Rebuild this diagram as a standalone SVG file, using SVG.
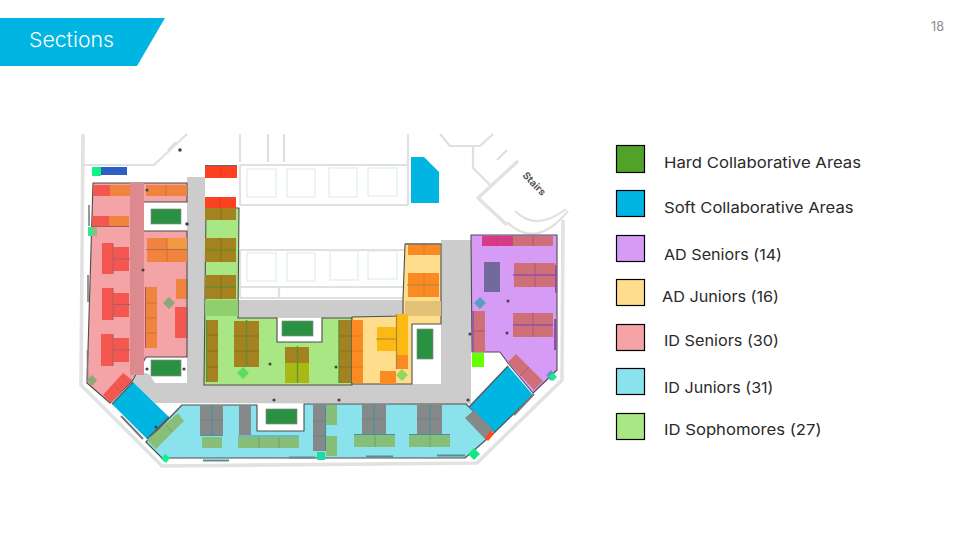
<svg xmlns="http://www.w3.org/2000/svg" width="960" height="540" viewBox="0 0 960 540">
<style>
text{font-family:"Inter","Noto Sans","Liberation Sans",sans-serif}
.lab{font-size:15px;fill:#2a2a2a;font-weight:400}
.sw{stroke:#000;stroke-width:1.2}
.wall{fill:none;stroke:#e0e0e0;stroke-width:2.200;stroke-linejoin:round}
.thick{fill:none;stroke:#e2e2e2;stroke-width:3.600;stroke-linejoin:round}
.room{fill:#fff;stroke:#d5eedd;stroke-width:1}
.zone{stroke:#4d4d4d;stroke-width:1.100;stroke-linejoin:round}
.soft{fill:#00b5e2}
.hard{fill:#2a9142;stroke:#8a8a8a;stroke-width:.7}
.sep{stroke-width:.7;fill:none}
.dot{fill:#444}
</style>
<g id="header">
<polygon points="0,18 165,18 137,66 0,66" fill="#00b5e2"/>
<text x="29" y="47" font-size="20.500" font-weight="300" fill="#fff" textLength="85" lengthAdjust="spacingAndGlyphs">Sections</text>
<text x="931" y="31" font-size="12.500" fill="#8c8c8c" textLength="13" lengthAdjust="spacingAndGlyphs">18</text>
</g>
<g id="floorplan-walls">
<polygon points="187,177 205,177 205,300 404,300 404,318 441,318 441,240 471,240 471,404 155,403 133,382 146,357 187,357" fill="#ccc"/>
<polygon points="146,357 187,357 187,383 155,383 149,374 141,372" fill="#fff"/>
<rect x="412" y="324" width="29" height="60" fill="#fff"/>
<rect x="277" y="318" width="45" height="24" fill="#fff"/>
<path class="thick" d="M83,134 L81,385 L162,466 L477,463 L562,380 L563,220"/>
<path class="wall" d="M84,165 H154 L187,134"/>
<path class="wall" stroke-width="5" d="M168,150 L176,142"/>
<path class="wall" d="M240,165 H408 M240,162 V134 M268,162 V134 M284,162 V134 M240,205 H408 M240,165 V205 M408,134 V160 M408,160 V205"/>
<path class="wall" d="M240,250 H406 M240,250 V298 M240,287 H404 M240,298 H404 M279,287 V298"/>
<rect class="room" x="247" y="169" width="29" height="28"/>
<rect class="room" x="287" y="169" width="28" height="28"/>
<rect class="room" x="329" y="168" width="28" height="29"/>
<rect class="room" x="368" y="168" width="29" height="28"/>
<rect class="room" x="247" y="253" width="29" height="28"/>
<rect class="room" x="287" y="253" width="28" height="28"/>
<rect class="room" x="330" y="251" width="28" height="29"/>
<rect class="room" x="368" y="251" width="29" height="28"/>
<path class="wall" d="M473,147 V168 L490,185 M440,134 L450,146 L480,146 L493,134"/>
<path class="thick" d="M518,161 L478,198 L507,225"/>
<path class="wall" stroke-width="3" d="M515,211 Q536,232 566,209 M507,222 Q536,250 568,211"/>
<path class="wall" d="M507,150 L497,160"/>
<text x="534" y="187" font-size="10" font-weight="700" fill="#555" text-anchor="middle" transform="rotate(47 534 184)">Stairs</text>
</g>
<g id="zones">
<path id="id-seniors" class="zone" fill="#f4a3a7" d="M93,183 H187 V202 H143 L142,231 H187 V357 H146 L133,380 L110,403 L87,383 Z"/>
<rect x="130" y="183" width="14" height="192" fill="#dc8a90"/>
<path id="id-sophomores" class="zone" fill="#a9e684" d="M206,208 H239 L238,318 H277 V342 H322 V318 H352 V385 H204 Z"/>
<rect x="205" y="300" width="33" height="16" fill="#90cf6e"/>
<path id="ad-juniors" class="zone" fill="#fedd8c" d="M352,317 L403,316 V300 L405,244 H441 V324 H412 V384 H352 Z"/>
<rect x="405" y="301" width="36" height="15" fill="#e3c277"/>
<path id="id-juniors" class="zone" fill="#8ae3ec" d="M182,405 H257 V431 H304 V404 H466 L495,432 L465,458 H162 L146,442 Z"/>
<path id="ad-seniors" class="zone" fill="#d69cf5" d="M471,235 H557 V370 L533,393 L508,363 L500,352 H472 Z"/>
</g>
<g id="hard-areas">
<rect class="hard" x="151" y="209" width="30" height="15"/>
<rect class="hard" x="151" y="360" width="30" height="16"/>
<rect class="hard" x="282" y="321" width="31" height="15"/>
<rect class="hard" x="266" y="409" width="31" height="15"/>
<rect class="hard" x="417" y="329" width="16" height="30"/>
</g>
<g id="soft-areas">
<polygon class="soft" points="133,382 169,417 147,439 112,404"/>
<polygon class="soft" points="508,366 533,395 495,432 469,407"/>
<polygon class="soft" points="411,157 424,157 439,172 439,203 411,203"/>
<path d="M133,382 L112,404 M147,439 L169,417 M508,366 L469,407 M533,395 L495,432" stroke="#555" stroke-width="1.200" fill="none"/>
</g>
<g id="desks-id-seniors">
<rect x="93" y="185" width="17" height="11" fill="#f4574f"/><rect x="110" y="185" width="20" height="11" fill="#f0833d"/>
<rect x="146" y="185" width="41" height="11" fill="#f0833d"/><path class="sep" stroke="#b96a3c" d="M166,185 V196"/>
<rect x="92" y="216" width="17" height="10" fill="#f4574f"/><rect x="109" y="216" width="20" height="10" fill="#f0833d"/>
<path d="M92,226.500 H129" stroke="#a8565c" stroke-width="1.200"/>
<rect x="147" y="238" width="40" height="24" fill="#f0833d"/><rect x="167" y="238" width="20" height="11" fill="#f29a42"/>
<path d="M146,249.500 H187" stroke="#b86a50" stroke-width="1.200"/><path class="sep" stroke="#b96a3c" d="M167,238 V262"/>
<rect x="102" y="243" width="11" height="31" fill="#f4574f"/><rect x="113" y="247" width="16" height="24" fill="#f4574f"/>
<path d="M113,259 H130 M113,243 V274" stroke="#b35a60" stroke-width="1"/>
<rect x="102" y="288" width="11" height="32" fill="#f4574f"/><rect x="113" y="293" width="16" height="24" fill="#f4574f"/>
<path d="M113,304.500 H130 M113,288 V320" stroke="#b35a60" stroke-width="1"/>
<rect x="101" y="334" width="12" height="32" fill="#f4574f"/><rect x="113" y="338" width="16" height="24" fill="#f4574f"/>
<path d="M113,350 H130 M113,334 V366" stroke="#b35a60" stroke-width="1"/>
<rect x="146" y="287" width="11" height="61" fill="#f0833d"/>
<path d="M145.500,287 V348" stroke="#a8565c" stroke-width="1"/><path class="sep" stroke="#b96a3c" d="M146,303 H157 M146,318 H157 M146,333 H157"/>
<rect x="176" y="279" width="11" height="20" fill="#f0833d"/>
<rect x="175" y="307" width="12" height="31" fill="#f4574f"/>
<path d="M187,279 V299 M187,307 V338" stroke="#7a6a6a" stroke-width="1.500"/>
<polygon points="103,395 123,373 132,380 111,403" fill="#f4574f"/>
<path class="sep" stroke="#b35a60" d="M113,384 L122,392"/>
<polygon points="169,297 175,303 169,309 163,303" fill="#8fa677"/>
<polygon points="92,375 97,380 92,386 87,380" fill="#8fa677"/>
<rect x="88" y="227" width="9" height="9" fill="#2fe98d"/><rect x="92" y="227" width="5" height="9" fill="#8fb988"/>
<path d="M89,205 V226 M88,275 V302 M87.500,350 V380" stroke="#777" stroke-width="1.500"/>
</g>
<g id="desks-top-left">
<rect x="92" y="167" width="9" height="9" fill="#12f08c"/>
<rect x="101" y="167" width="26" height="8" fill="#2f5fc4"/>
<rect x="205" y="166" width="32" height="12" fill="#fb4120"/><path d="M205,165.500 H237" stroke="#666" stroke-width="1"/>
<rect x="205" y="197" width="31" height="11" fill="#fb4120"/>
<path class="sep" stroke="#c33" d="M221,166 V178 M220,197 V208"/>
</g>
<g id="desks-id-sophomores">
<rect x="205" y="208" width="31" height="12" fill="#a3821f"/>
<rect x="205" y="238" width="31" height="24" fill="#a3821f"/>
<rect x="205" y="275" width="31" height="24" fill="#a3821f"/>
<path d="M205,250 H236 M205,287 H236" stroke="#6f8a2a" stroke-width="1.300"/>
<path class="sep" stroke="#7b6a20" d="M221,208 V220 M221,238 V262 M221,275 V299"/>
<rect x="207" y="320" width="11" height="62" fill="#a3821f"/>
<rect x="234" y="321" width="25" height="46" fill="#a3821f"/>
<rect x="339" y="320" width="12" height="63" fill="#a3821f"/>
<path d="M206.500,320 V382 M246.500,320 V367 M339,320 V383" stroke="#5f8f33" stroke-width="1.300"/>
<path class="sep" stroke="#7b6a20" d="M207,335 H218 M207,351 H218 M207,367 H218 M234,336 H259 M234,351 H259 M339,336 H351 M339,351 H351 M339,367 H351"/>
<rect x="285" y="347" width="24" height="16" fill="#a3821f"/>
<rect x="285" y="363" width="24" height="20" fill="#a8b914"/>
<path d="M297.500,346 V383" stroke="#5f8f33" stroke-width="1.300"/>
<polygon points="243,367 249,373 243,379 237,373" fill="#5edc5e"/>
<circle class="dot" cx="270" cy="364" r="1.500"/><circle class="dot" cx="336" cy="367" r="1.500"/>
</g>
<g id="desks-ad-juniors">
<rect x="408" y="245" width="32" height="10" fill="#fb8a22"/><path d="M405,244 H441" stroke="#777" stroke-width="1.300"/>
<rect x="408" y="273" width="31" height="24" fill="#fb8a22"/>
<path d="M407,285 H439" stroke="#b88a3a" stroke-width="1.300"/><path class="sep" stroke="#c77a2a" d="M424,245 V255 M424,273 V297"/>
<rect x="352" y="320" width="11" height="63" fill="#fb8a22"/>
<path class="sep" stroke="#d07a1e" d="M352,336 H363 M352,351 H363 M352,367 H363"/>
<rect x="377" y="327" width="19" height="24" fill="#fdb913"/>
<rect x="397" y="314" width="11" height="41" fill="#fdb913"/>
<rect x="397" y="355" width="11" height="14" fill="#fb8a22"/>
<rect x="380" y="371" width="16" height="13" fill="#fb8a22"/>
<path d="M376,339 H397 M396.500,314 V369" stroke="#a88a30" stroke-width="1.200"/>
<polygon points="402,369 408,375 402,381 396,375" fill="#8ed95c"/>
</g>
<g id="desks-id-juniors">
<g fill="#86898a">
<rect x="200" y="405" width="23" height="30"/>
<rect x="239" y="405" width="12" height="30"/>
<rect x="313" y="405" width="12" height="46"/>
<rect x="362" y="404" width="24" height="30"/>
<rect x="417" y="404" width="25" height="30"/>
<polygon points="465,418 474,410 494,431 485,439"/>
</g>
<g fill="#88bf78">
<rect x="202" y="437" width="20" height="11"/>
<rect x="238" y="437" width="61" height="11"/>
<rect x="326" y="405" width="11" height="20"/>
<rect x="326" y="436" width="11" height="20"/>
<rect x="354" y="435" width="41" height="12"/>
<rect x="409" y="435" width="41" height="12"/>
<polygon points="147,440 178,413 184,421 156,449"/>
</g>
<path d="M212,405 V435 M374,404 V434 M430,404 V434 M238,436 H299 M354,434.500 H395 M409,434.500 H450 M200,435.500 H223 M325.500,405 V451" stroke="#4a8f9e" stroke-width="1.200" fill="none"/>
<path class="sep" stroke="#6f8f70" d="M259,437 V448 M279,437 V448 M375,435 V447 M430,435 V447 M166,425 L172,432"/>
<path class="sep" stroke="#70797b" d="M200,420 H223 M362,419 H386 M417,419 H442 M313,421 H325 M313,436 H325"/>
<rect x="317" y="452" width="8" height="8" fill="#1fd9a5"/>
<polygon points="165,454 170,458 166,463 161,459" fill="#12f08c"/>
<polygon points="474,448 480,454 474,460 468,454" fill="#12e87f"/>
<polygon points="490,431 494,434 488,441 485,438" fill="#ff4a20"/>
<path d="M203,460.500 H229 M289,457.500 H315 M366,456.500 H393 M437,455.500 H465" stroke="#5f8a90" stroke-width="2"/>
<path d="M121,416 L143,439" stroke="#777" stroke-width="2"/>
</g>
<g id="desks-ad-seniors">
<rect x="482" y="236" width="31" height="10" fill="#d83a85"/>
<rect x="513" y="236" width="40" height="10" fill="#cf6f78"/>
<path class="sep" stroke="#9c4a8a" d="M497,236 V246 M533,236 V246"/>
<rect x="484" y="262" width="16" height="30" fill="#726a9c"/>
<rect x="514" y="263" width="41" height="24" fill="#cf6f78"/>
<path d="M513,275 H556" stroke="#8d4fa8" stroke-width="1.500"/><path class="sep" stroke="#9c4a8a" d="M535,263 V287"/>
<rect x="555" y="265" width="2" height="28" fill="#8d4fa8"/>
<polygon points="480,297 486,303 480,309 474,303" fill="#5b9dc2"/>
<rect x="473" y="311" width="12" height="41" fill="#cf6f78"/>
<path d="M473,311 V352" stroke="#8d4fa8" stroke-width="1.500"/><path class="sep" stroke="#9c4a8a" d="M473,331 H485"/>
<rect x="513" y="313" width="40" height="24" fill="#cf6f78"/>
<path d="M513,325 H553" stroke="#8d4fa8" stroke-width="1.500"/><path class="sep" stroke="#9c4a8a" d="M533,313 V337"/>
<rect x="554" y="319" width="2.500" height="31" fill="#8d4fa8"/>
<polygon points="508,362 516,354 543,381 534,390" fill="#cf6f78"/>
<path class="sep" stroke="#9c4a8a" d="M520,376 L529,367"/>
<polygon points="551,370 555,375 551,381 546,375" fill="#5b9dc2"/>
<polygon points="553,373 557,377 553,381 549,377" fill="#12f08c"/>
<rect x="472" y="353" width="12" height="14" fill="#66ff00"/>
<path d="M514,415 L534,394" stroke="#777" stroke-width="2"/>
</g>
<g id="dots">
<circle class="dot" cx="180" cy="150" r="1.800"/><circle class="dot" cx="187" cy="224" r="1.800"/>
<circle class="dot" cx="147" cy="190" r="1.500" fill="#b35a60"/><circle class="dot" cx="143" cy="270" r="1.500" fill="#b35a60"/>
<circle class="dot" cx="147" cy="369" r="1.600"/><circle class="dot" cx="184" cy="369" r="1.600"/>
<circle class="dot" cx="274" cy="400" r="1.600"/><circle class="dot" cx="339" cy="400" r="1.600"/>
<circle class="dot" cx="470" cy="334" r="1.600"/><circle class="dot" cx="468" cy="400" r="1.600"/>
<circle class="dot" cx="508" cy="301" r="1.500" fill="#7a3a9c"/><circle class="dot" cx="507" cy="333" r="1.500" fill="#7a3a9c"/>
<circle class="dot" cx="156" cy="427" r="1.500"/>
</g>
<g id="legend">
<g id="legend-hard"><rect class="sw" x="616.500" y="145.500" width="28" height="27" fill="#50a228"/><text class="lab" x="664" y="168" textLength="197" lengthAdjust="spacingAndGlyphs">Hard Collaborative Areas</text></g>
<g id="legend-soft"><rect class="sw" x="616.500" y="190.500" width="28" height="26" fill="#00b5e2"/><text class="lab" x="664" y="212.500" textLength="189.500" lengthAdjust="spacingAndGlyphs">Soft Collaborative Areas</text></g>
<g id="legend-ad-seniors"><rect class="sw" x="616.500" y="235.500" width="28" height="26" fill="#d69cf5"/><text class="lab" x="664" y="259.500" textLength="118" lengthAdjust="spacingAndGlyphs">AD Seniors (14)</text></g>
<g id="legend-ad-juniors"><rect class="sw" x="616.500" y="279.500" width="28" height="26" fill="#fedd8c"/><text class="lab" x="662" y="301.500" textLength="117" lengthAdjust="spacingAndGlyphs">AD Juniors (16)</text></g>
<g id="legend-id-seniors"><rect class="sw" x="616.500" y="324.500" width="28" height="26" fill="#f4a3a7"/><text class="lab" x="664" y="346" textLength="115" lengthAdjust="spacingAndGlyphs">ID Seniors (30)</text></g>
<g id="legend-id-juniors"><rect class="sw" x="616.500" y="368.500" width="28" height="26" fill="#8ae3ec"/><text class="lab" x="664" y="393" textLength="109.500" lengthAdjust="spacingAndGlyphs">ID Juniors (31)</text></g>
<g id="legend-id-sophomores"><rect class="sw" x="616.500" y="413.500" width="28" height="26" fill="#a9e684"/><text class="lab" x="664" y="435" textLength="157.500" lengthAdjust="spacingAndGlyphs">ID Sophomores (27)</text></g>
</g>
</svg>
